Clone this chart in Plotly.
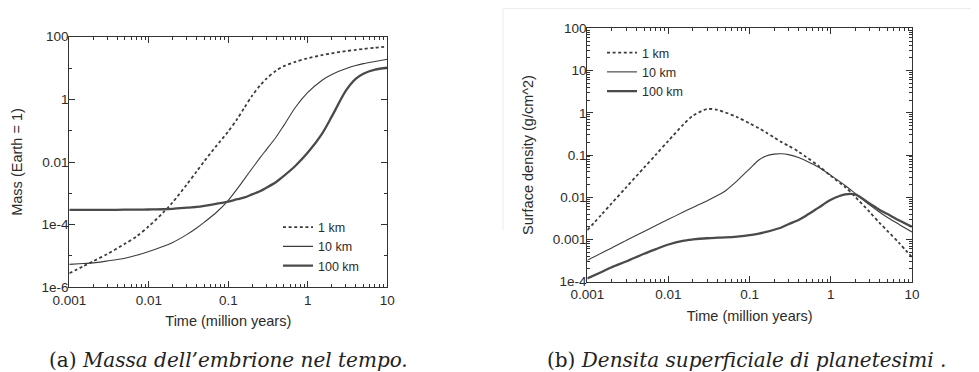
import plotly.graph_objects as go

# ---------------- data ----------------
time_myr = [0.001, 0.0015, 0.002, 0.003, 0.005, 0.007, 0.01, 0.015, 0.02, 0.03,
            0.04, 0.05, 0.07, 0.1, 0.13, 0.16, 0.2, 0.25, 0.3, 0.4,
            0.5, 0.7, 1, 1.5, 2, 3, 4, 5, 7, 10]

series_names = ["1 km", "10 km", "100 km"]

# (a) embryo mass (Earth = 1)
mass_1km = [2.8e-6, 4.7e-6, 6.8e-6, 1.15e-5, 2.45e-5, 4.2e-5, 8.9e-5, 2.35e-4, 5.2e-4, 1.9e-3,
            5.0e-3, 0.0107, 0.0316, 0.095, 0.24, 0.55, 1.32, 2.75, 4.5, 8.3,
            11.5, 15.8, 20.4, 25.7, 29.5, 34.7, 38.0, 40.7, 44.7, 47.9]
mass_10km = [5.4e-6, 5.75e-6, 6.0e-6, 6.9e-6, 8.5e-6, 1.05e-5, 1.38e-5, 2.0e-5, 2.7e-5, 4.8e-5,
             7.8e-5, 1.2e-4, 2.4e-4, 6.0e-4, 1.41e-3, 2.9e-3, 6.3e-3, 0.0135, 0.0245, 0.063,
             0.148, 0.56, 1.66, 4.0, 6.2, 9.5, 12.0, 13.8, 16.2, 19.1]
mass_100km = [2.95e-4, 2.95e-4, 2.95e-4, 2.95e-4, 3.0e-4, 3.02e-4, 3.05e-4, 3.1e-4, 3.2e-4, 3.47e-4,
              3.7e-4, 4.0e-4, 4.6e-4, 5.4e-4, 6.5e-4, 7.4e-4, 9.3e-4, 1.17e-3, 1.5e-3, 2.3e-3,
              3.6e-3, 7.6e-3, 0.02, 0.078, 0.28, 1.86, 4.5, 6.6, 8.9, 10.2]

# (b) planetesimal surface density (g/cm^2)
dens_1km = [1.66e-3, 3.9e-3, 7.2e-3, 0.017, 0.05, 0.102, 0.219, 0.51, 0.85, 1.23,
            1.17, 1.02, 0.79, 0.56, 0.43, 0.34, 0.26, 0.20, 0.166, 0.12,
            0.089, 0.056, 0.032, 0.0174, 0.0102, 4.5e-3, 2.45e-3, 1.58e-3, 8.1e-4, 3.8e-4]
dens_10km = [3.2e-4, 4.8e-4, 6.3e-4, 9.5e-4, 1.55e-3, 2.14e-3, 3.0e-3, 4.4e-3, 5.75e-3, 8.3e-3,
             0.011, 0.0141, 0.0245, 0.047, 0.076, 0.095, 0.105, 0.107, 0.102, 0.087,
             0.072, 0.052, 0.033, 0.019, 0.0123, 6.6e-3, 4.4e-3, 3.3e-3, 2.24e-3, 1.51e-3]
dens_100km = [1.2e-4, 1.7e-4, 2.2e-4, 3.0e-4, 4.6e-4, 5.9e-4, 7.6e-4, 9.3e-4, 1.0e-3, 1.07e-3,
              1.1e-3, 1.12e-3, 1.17e-3, 1.26e-3, 1.38e-3, 1.51e-3, 1.7e-3, 1.95e-3, 2.3e-3, 2.9e-3,
              3.7e-3, 5.6e-3, 8.7e-3, 0.0117, 0.0117, 7.1e-3, 5.0e-3, 4.0e-3, 2.8e-3, 2.0e-3]

x_ticks = [0.001, 0.01, 0.1, 1, 10]
x_ticktext = ["0.001", "0.01", "0.1", "1", "10"]
mass_ticks = [1e-6, 1e-4, 1e-2, 1, 100]
mass_ticktext = ["1e-6", "1e-4", "0.01", "1", "100"]
mass_minor = [1e-5, 1e-3, 1e-1, 10]
dens_ticks = [1e-4, 1e-3, 1e-2, 1e-1, 1, 10, 100]
dens_ticktext = ["1e-4", "0.001", "0.01", "0.1", "1", "10", "100"]

captions = ["(a) <i>Massa dell’embrione nel tempo.</i>",
            "(b) <i>Densita superficiale di planetesimi .</i>"]

# ---------------- styling ----------------
# the page body keeps its default 8px margin, so the figure is laid out in
# window pixels shifted by that offset
OFF = 8
W, H = 979 - OFF, 372 - OFF
INK = "#2b2b2b"
LINE = "#3c3c3c"
styles = [dict(width=1.8, dash="3px,2.6px", color=LINE),
          dict(width=1.1, color=LINE),
          dict(width=2.3, color="#4a4a4a")]

def log_minor(lo, hi):
    out = []
    for e in range(lo, hi):
        for m in range(2, 10):
            out.append(m * 10.0 ** e)
    return out

def px(x):
    return (x - OFF) / W

def py(y):
    return 1 - (y - OFF) / H

fig = go.Figure()

for name, ys, st in zip(series_names, [mass_1km, mass_10km, mass_100km], styles):
    fig.add_trace(go.Scatter(x=time_myr, y=ys, mode="lines", name=name,
                             line=dict(shape="spline", smoothing=0.8, **st),
                             xaxis="x", yaxis="y", legend="legend"))
for name, ys, st in zip(series_names, [dens_1km, dens_10km, dens_100km], styles):
    fig.add_trace(go.Scatter(x=time_myr, y=ys, mode="lines", name=name,
                             line=dict(shape="spline", smoothing=0.8, **st),
                             xaxis="x2", yaxis="y2", legend="legend2"))

tickfont = dict(family="Liberation Sans, Arial, sans-serif", size=13.5, color=INK)
titlefont = dict(family="Liberation Sans, Arial, sans-serif", size=14.5, color=INK)

common_axis = dict(type="log", showline=True, linecolor="#333", linewidth=1.2,
                   mirror="ticks", ticks="inside", ticklen=6, tickwidth=1.1,
                   tickcolor="#333", showgrid=False, zeroline=False, automargin=False,
                   tickfont=tickfont, tickmode="array")

xa = dict(common_axis, range=[-3, 1], tickvals=x_ticks, ticktext=x_ticktext,
          minor=dict(tickmode="array", tickvals=log_minor(-3, 1), ticks="inside",
                     ticklen=3, tickwidth=1, tickcolor="#333", showgrid=False),
          title=dict(text="Time (million years)", font=titlefont, standoff=9))

fig.update_layout(
    width=W, height=H,
    margin=dict(l=0, r=0, t=0, b=0),
    paper_bgcolor="white", plot_bgcolor="white",
    xaxis=dict(xa, domain=[px(69.3), px(387.3)], anchor="y"),
    yaxis=dict(common_axis, range=[-6, 2], tickvals=mass_ticks, ticktext=mass_ticktext,
               domain=[py(287.3), py(36.7)], anchor="x", ticklabelstandoff=-3,
               minor=dict(tickmode="array", tickvals=mass_minor, ticks="inside",
                          ticklen=3, tickwidth=1, tickcolor="#333", showgrid=False),
               title=dict(text="Mass (Earth = 1)", font=titlefont)),
    xaxis2=dict(xa, domain=[px(587.3), px(912)], anchor="y2"),
    yaxis2=dict(common_axis, range=[-4, 2], tickvals=dens_ticks, ticktext=dens_ticktext,
                domain=[py(281.7), py(28.3)], anchor="x2", ticklabelstandoff=-3,
                minor=dict(tickmode="array", tickvals=log_minor(-4, 2), ticks="inside",
                           ticklen=3, tickwidth=1, tickcolor="#333", showgrid=False),
                title=dict(text="Surface density (g/cm^2)", font=titlefont)),
    legend=dict(x=px(278), y=py(212.5), xanchor="left", yanchor="top",
                bgcolor="rgba(0,0,0,0)", itemwidth=30, tracegroupgap=0,
                font=dict(family="Liberation Sans, Arial, sans-serif", size=12.5, color=INK)),
    legend2=dict(x=px(602), y=py(38), xanchor="left", yanchor="top",
                 bgcolor="rgba(0,0,0,0)", itemwidth=30, tracegroupgap=0,
                 font=dict(family="Liberation Sans, Arial, sans-serif", size=12.5, color=INK)),
    showlegend=True,
)

# captions
fig.add_annotation(text=captions[0], x=px(228), y=py(360), xref="paper", yref="paper",
                   showarrow=False, xanchor="center", yanchor="middle",
                   font=dict(family="DejaVu Serif, serif", size=20, color="#222"))
fig.add_annotation(text=captions[1], x=px(746), y=py(360), xref="paper", yref="paper",
                   showarrow=False, xanchor="center", yanchor="middle",
                   font=dict(family="DejaVu Serif, serif", size=20, color="#222"))

# faint frame of the scanned right panel
fig.add_shape(type="line", xref="paper", yref="paper", x0=px(503), x1=1, y0=py(8.5), y1=py(8.5),
              line=dict(color="#ececec", width=1))
fig.add_shape(type="line", xref="paper", yref="paper", x0=px(503), x1=px(503), y0=py(8.5), y1=py(230),
              line=dict(color="#ececec", width=1))

fig.write_html("out.html")
